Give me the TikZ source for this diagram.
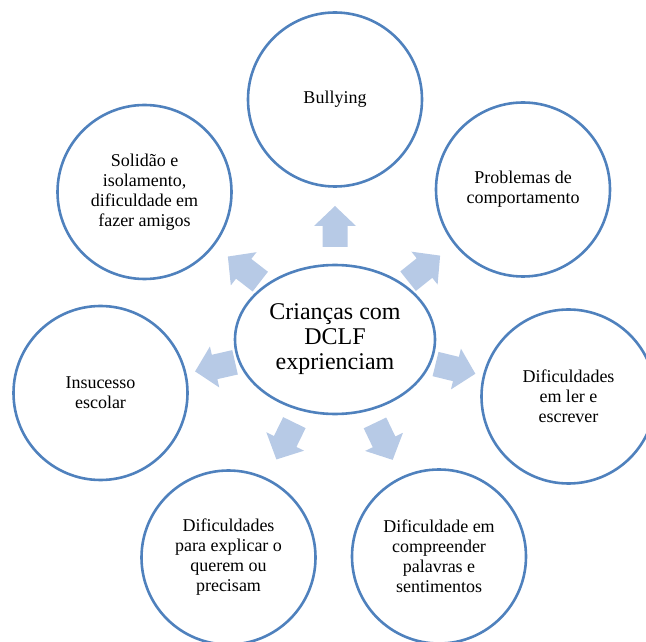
\documentclass[tikz,border=0pt]{standalone}
\usepackage{fontspec}
\setmainfont{Liberation Serif}
\usetikzlibrary{calc,shapes.geometric}
\definecolor{ringblue}{HTML}{4F81BD}
\definecolor{arrowfill}{HTML}{B7CAE6}
\tikzset{
  x=1pt, y=1pt,
  topic/.style={circle, draw=ringblue, line width=2.6pt, fill=white,
    minimum size=174pt, inner sep=0pt, align=center,
    font=\fontsize{18pt}{20pt}\selectfont},
  hub/.style={ellipse, draw=ringblue, line width=2.6pt, fill=white,
    minimum width=200pt, minimum height=149pt, inner sep=0pt, align=center,
    font=\fontsize{24pt}{25pt}\selectfont},
  blockarrow/.pic={
    \fill[arrowfill] (-20.5,-12.5) -- (0.5,-12.5) -- (0.5,-21) -- (20.5,0)
      -- (0.5,21) -- (0.5,12.5) -- (-20.5,12.5) -- cycle;
  }
}
\begin{document}
\begin{tikzpicture}
\useasboundingbox (0,0) rectangle (646,641);
\clip (0,0) rectangle (646,641);

% central ellipse
\node[hub] (ctr) at (335,301.5) {Crianças com\\DCLF\\exprienciam};

% surrounding topics
\node[topic] (bul) at (335,541.5) {Bullying};
\node[topic] (pro) at (523,451.5) {Problemas de\\comportamento};
\node[topic] (ler) at (568.5,244.5) {Dificuldades\\em ler e\\escrever};
\node[topic] (com) at (439,84.5) {Dificuldade em\\compreender\\palavras e\\sentimentos};
\node[topic] (exp) at (228.5,83.5) {Dificuldades\\para explicar o\\querem ou\\precisam};
\node[topic] (ins) at (100.5,248) {Insucesso\\escolar};
\node[topic] (sol) at (144.5,449) {Solidão e\\isolamento,\\dificuldade em\\fazer amigos};

% block arrows pointing from the hub towards each topic
\foreach \c/\d in {bul/113, pro/114, ler/124, com/113, exp/113, ins/123, sol/115} {
  \path let \p1 = ($(\c)-(ctr)$), \n1 = {atan2(\y1,\x1)} in
    ($(ctr)!\d pt!(\c)$) pic[rotate=\n1] {blockarrow};
}
\end{tikzpicture}
\end{document}
